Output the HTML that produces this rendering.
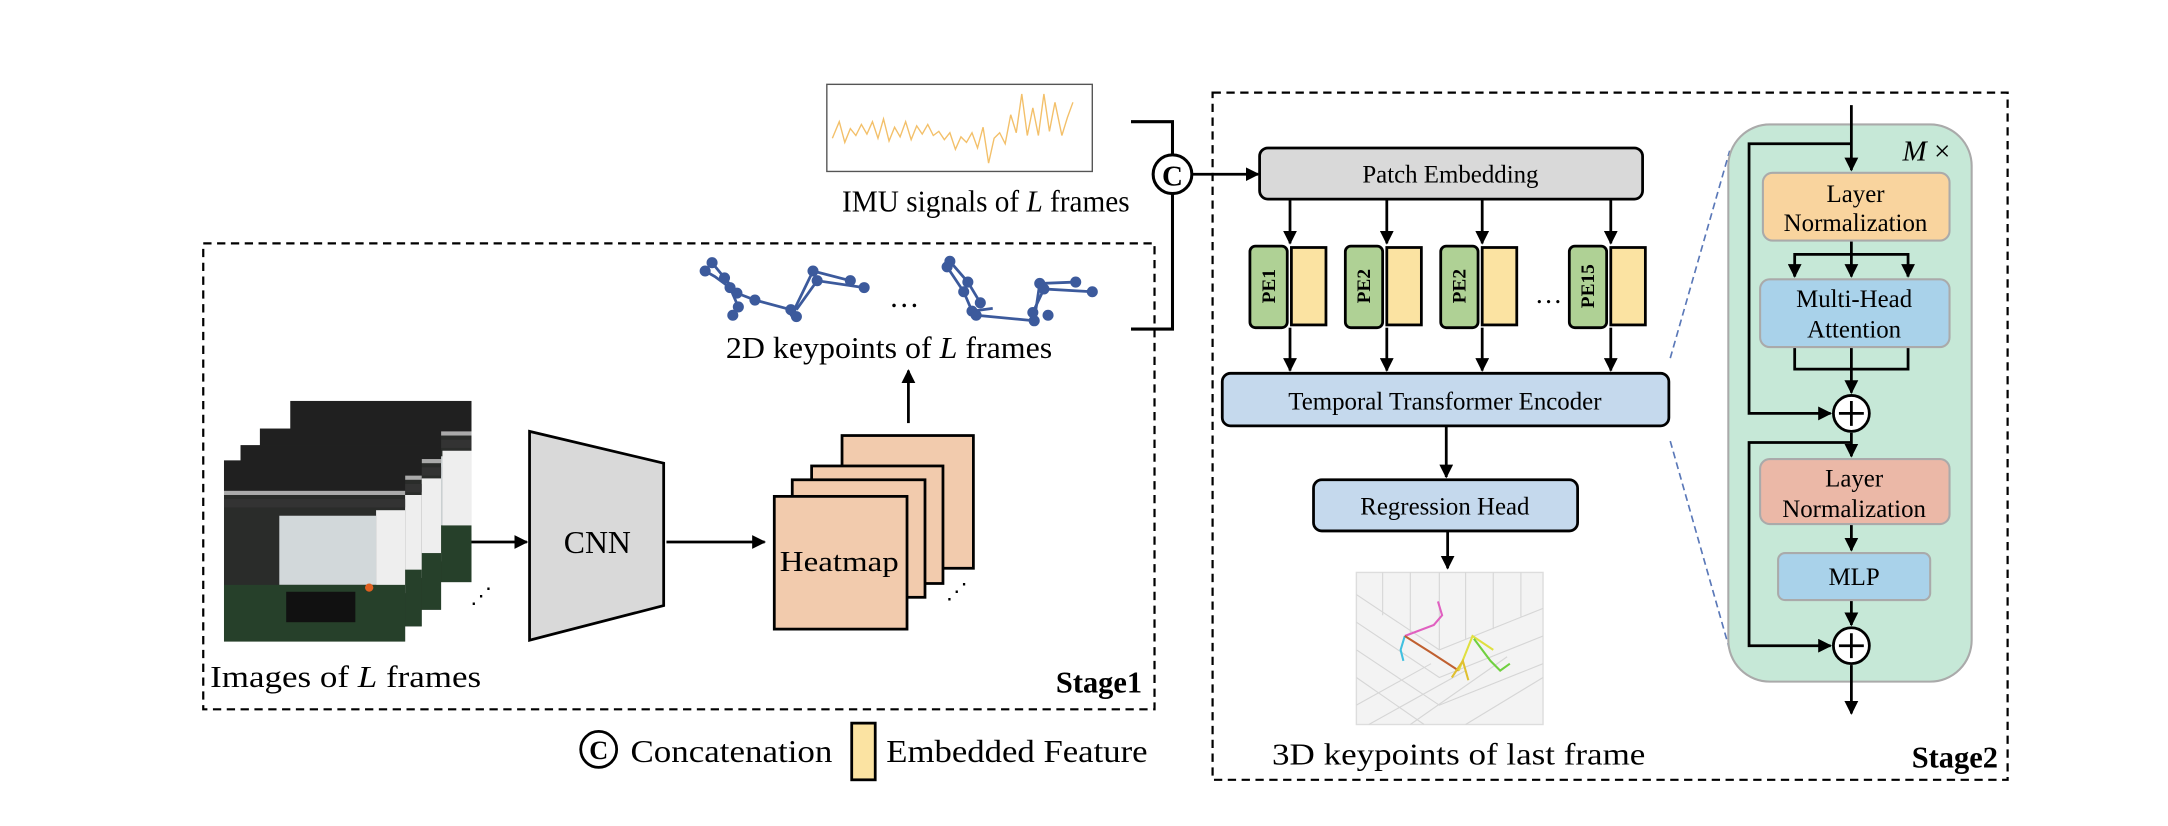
<!DOCTYPE html>
<html><head><meta charset="utf-8"><style>html,body{margin:0;padding:0;background:#fff}svg{display:block}</style></head>
<body>
<svg width="2168" height="826" viewBox="0 0 1568 597.4" xmlns="http://www.w3.org/2000/svg" font-family="Liberation Serif, serif">
<defs>
<marker id="ar" viewBox="0 0 10 10" refX="9" refY="5" markerWidth="5" markerHeight="5" orient="auto"><path d="M0,0 L10,5 L0,10 z" fill="#000"/></marker>
<g id="frame">
<rect x="0" y="0" width="131" height="131" fill="#2a2c2a"/>
<rect x="0" y="0" width="131" height="22" fill="#202020"/>
<rect x="0" y="22" width="131" height="3" fill="#aaa"/>
<rect x="0" y="28" width="131" height="6" fill="#333"/>
<rect x="40" y="40" width="70" height="50" fill="#d2d8da"/>
<rect x="110" y="36" width="21" height="60" fill="#eeeeee"/>
<rect x="0" y="90" width="131" height="41" fill="#26402a"/>
<rect x="45" y="95" width="50" height="22" fill="#111"/>
<circle cx="105" cy="92" r="3" fill="#e06020"/>
</g>
</defs>

<!-- IMU -->
<rect x="598" y="61" width="192" height="63" fill="#fff" stroke="#555" stroke-width="1"/>
<polyline fill="none" stroke="#f3c06a" stroke-width="1" points="602,100 607,88 611,103 615,93 619,98 623,90 627,97 631,88 635,100 639,86 643,102 647,92 651,99 655,88 659,101 663,91 667,97 671,90 675,98 679,95 683,101 687,96 691,108 695,99 699,103 703,96 707,107 711,92 715,118 719,100 723,96 727,104 731,83 735,96 739,68 743,98 747,78 751,98 755,68 759,95 763,74 768,98 772,85 776,74"/>
<text x="713" y="153" font-size="22" text-anchor="middle" textLength="208" lengthAdjust="spacingAndGlyphs">IMU signals of <tspan font-style="italic">L</tspan> frames</text>

<!-- bracket and concat -->
<polyline points="818,88 848,88 848,238 818,238" fill="none" stroke="#000" stroke-width="2.2"/>
<circle cx="848" cy="126" r="14" fill="#fff" stroke="#000" stroke-width="2.2"/>
<text x="848" y="134" font-size="21" font-weight="bold" text-anchor="middle">C</text>
<line x1="862" y1="126" x2="910" y2="126" stroke="#000" stroke-width="2" marker-end="url(#ar)"/>

<!-- Stage1 -->
<rect x="147" y="176" width="688" height="337" fill="none" stroke="#000" stroke-width="1.6" stroke-dasharray="6,4"/>
<text x="826" y="501" font-size="22" font-weight="bold" text-anchor="end">Stage1</text>

<!-- skeletons -->
<g stroke="#3c5a9c" stroke-width="2" fill="#3c5a9c">
<polyline fill="none" points="510,196 517,200 528,208 534,222 530,228"/>
<polyline fill="none" points="515,190 524,201 533,212 546,217 572,224"/>
<polyline fill="none" points="572,229 588,196 615,203"/>
<polyline fill="none" points="576,224 591,203 625,208"/>
<circle cx="510" cy="196" r="3"/><circle cx="515" cy="190" r="3"/><circle cx="524" cy="201" r="3"/><circle cx="528" cy="208" r="3"/><circle cx="533" cy="212" r="3"/><circle cx="546" cy="217" r="3"/><circle cx="530" cy="228" r="3"/><circle cx="534" cy="222" r="3"/><circle cx="572" cy="224" r="3"/><circle cx="576" cy="229" r="3"/><circle cx="588" cy="196" r="3"/><circle cx="591" cy="203" r="3"/><circle cx="615" cy="203" r="3"/><circle cx="625" cy="208" r="3"/>
<polyline fill="none" points="685,193 697,211 703,225 718,223"/>
<polyline fill="none" points="687,189 700,204 709,219"/>
<polyline fill="none" points="706,228 748,232 752,205 778,204"/>
<polyline fill="none" points="747,226 755,209 790,211"/>
<circle cx="685" cy="193" r="3"/><circle cx="687" cy="189" r="3"/><circle cx="697" cy="211" r="3"/><circle cx="700" cy="204" r="3"/><circle cx="709" cy="219" r="3"/><circle cx="703" cy="225" r="3"/><circle cx="706" cy="228" r="3"/><circle cx="748" cy="232" r="3"/><circle cx="752" cy="205" r="3"/><circle cx="778" cy="204" r="3"/><circle cx="747" cy="226" r="3"/><circle cx="755" cy="209" r="3"/><circle cx="790" cy="211" r="3"/><circle cx="758" cy="228" r="3"/>
</g>
<text x="654" y="222" font-size="22" text-anchor="middle">…</text>
<text x="643" y="259" font-size="22" text-anchor="middle" textLength="236" lengthAdjust="spacingAndGlyphs">2D keypoints of <tspan font-style="italic">L</tspan> frames</text>
<line x1="657" y1="306" x2="657" y2="268" stroke="#000" stroke-width="2" marker-end="url(#ar)"/>

<!-- images -->
<use href="#frame" transform="translate(210,290)"/>
<use href="#frame" transform="translate(188,310)"/>
<use href="#frame" transform="translate(174,322)"/>
<use href="#frame" transform="translate(162,333)"/>
<text x="340" y="436" font-size="16">⋰</text>
<text x="152" y="497" font-size="22" textLength="196" lengthAdjust="spacingAndGlyphs">Images of <tspan font-style="italic">L</tspan> frames</text>

<line x1="341" y1="392" x2="381" y2="392" stroke="#000" stroke-width="2" marker-end="url(#ar)"/>
<polygon points="383,312 480,335 480,438 383,463" fill="#d9d9d9" stroke="#000" stroke-width="2"/>
<text x="432" y="400" font-size="23" text-anchor="middle">CNN</text>
<line x1="482" y1="392" x2="553" y2="392" stroke="#000" stroke-width="2" marker-end="url(#ar)"/>

<g fill="#f2cbad" stroke="#000" stroke-width="2">
<rect x="609" y="315" width="95" height="96"/>
<rect x="587" y="337" width="95" height="85"/>
<rect x="573" y="347" width="96" height="85"/>
<rect x="560" y="359" width="96" height="96"/>
</g>
<text x="607" y="413" font-size="21" text-anchor="middle" textLength="86" lengthAdjust="spacingAndGlyphs">Heatmap</text>
<text x="684" y="433" font-size="16">⋰</text>

<!-- legend -->
<circle cx="433" cy="542" r="13" fill="#fff" stroke="#000" stroke-width="2"/>
<text x="433" y="549" font-size="19" font-weight="bold" text-anchor="middle">C</text>
<text x="456" y="551" font-size="23" textLength="146" lengthAdjust="spacingAndGlyphs">Concatenation</text>
<rect x="616" y="523" width="17" height="41" fill="#fbe3a2" stroke="#000" stroke-width="2"/>
<text x="641" y="551" font-size="23" textLength="189" lengthAdjust="spacingAndGlyphs">Embedded Feature</text>

<!-- Stage2 -->
<rect x="877" y="67" width="575" height="497" fill="none" stroke="#000" stroke-width="1.6" stroke-dasharray="6,4"/>
<text x="1445" y="555" font-size="22" font-weight="bold" text-anchor="end">Stage2</text>

<rect x="911" y="107" width="277" height="37" rx="6" fill="#d9d9d9" stroke="#000" stroke-width="2"/>
<text x="1049" y="132" font-size="18" text-anchor="middle">Patch Embedding</text>

<g stroke="#000" stroke-width="2">
<line x1="933" y1="144" x2="933" y2="176" marker-end="url(#ar)"/>
<line x1="1003" y1="144" x2="1003" y2="176" marker-end="url(#ar)"/>
<line x1="1072" y1="144" x2="1072" y2="176" marker-end="url(#ar)"/>
<line x1="1165" y1="144" x2="1165" y2="176" marker-end="url(#ar)"/>
<line x1="933" y1="237" x2="933" y2="268" marker-end="url(#ar)"/>
<line x1="1003" y1="237" x2="1003" y2="268" marker-end="url(#ar)"/>
<line x1="1072" y1="237" x2="1072" y2="268" marker-end="url(#ar)"/>
<line x1="1165" y1="237" x2="1165" y2="268" marker-end="url(#ar)"/>
</g>
<g stroke="#000" stroke-width="2">
<rect x="904" y="178" width="27" height="59" rx="4" fill="#afd195"/>
<rect x="934" y="179" width="25" height="56" fill="#fbe3a2"/>
<rect x="973" y="178" width="27" height="59" rx="4" fill="#afd195"/>
<rect x="1003" y="179" width="25" height="56" fill="#fbe3a2"/>
<rect x="1042" y="178" width="27" height="59" rx="4" fill="#afd195"/>
<rect x="1072" y="179" width="25" height="56" fill="#fbe3a2"/>
<rect x="1135" y="178" width="27" height="59" rx="4" fill="#afd195"/>
<rect x="1165" y="179" width="25" height="56" fill="#fbe3a2"/>
</g>
<g font-size="14" font-weight="bold" text-anchor="middle">
<text transform="translate(922,207) rotate(-90)">PE1</text>
<text transform="translate(991,207) rotate(-90)">PE2</text>
<text transform="translate(1060,207) rotate(-90)">PE2</text>
<text transform="translate(1153,207) rotate(-90)">PE15</text>
</g>
<text x="1120" y="219" font-size="20" text-anchor="middle">…</text>

<rect x="884" y="270" width="323" height="38" rx="6" fill="#c5d9ed" stroke="#000" stroke-width="2"/>
<text x="1045" y="296" font-size="18" text-anchor="middle">Temporal Transformer Encoder</text>
<line x1="1046" y1="308" x2="1046" y2="345" stroke="#000" stroke-width="2" marker-end="url(#ar)"/>
<rect x="950" y="347" width="191" height="37" rx="6" fill="#c5d9ed" stroke="#000" stroke-width="2"/>
<text x="1045" y="372" font-size="18" text-anchor="middle">Regression Head</text>
<line x1="1047" y1="384" x2="1047" y2="411" stroke="#000" stroke-width="2" marker-end="url(#ar)"/>

<!-- 3D plot -->
<rect x="981" y="414" width="135" height="110" fill="#f3f3f3" stroke="#ddd"/>
<g stroke="#d6d6d6" stroke-width="0.8" fill="none">
<path d="M981,430 L1041,470 L1116,440 M981,450 L1041,490 L1116,460 M981,470 L1041,510 L1116,480 M981,490 L1030,524 M1041,414 L1041,470 M1000,414 L1000,445 M1020,414 L1020,458 M1060,414 L1060,462 M1080,414 L1080,455 M1100,414 L1100,446 M990,524 L1060,485 M1020,524 L1090,475 M1060,524 L1116,490 M981,510 L1035,480"/>
</g>
<g stroke-width="1.5" fill="none">
<polyline stroke="#e060c0" points="1040,435 1043,445 1037,452 1016,460"/>
<polyline stroke="#40c0e0" points="1016,460 1013,470 1015,478"/>
<polyline stroke="#c06030" points="1016,460 1035,472 1055,485"/>
<polyline stroke="#e0e040" points="1055,485 1065,460 1080,470"/>
<polyline stroke="#70d040" points="1066,462 1078,478 1085,485 1092,480"/>
<polyline stroke="#e0c030" points="1050,490 1058,478 1062,492"/>
</g>
<text x="1055" y="553" font-size="22" text-anchor="middle" textLength="270" lengthAdjust="spacingAndGlyphs">3D keypoints of last frame</text>

<!-- dashed zoom lines -->
<line x1="1208" y1="259" x2="1251" y2="109" stroke="#5a78b8" stroke-width="1.2" stroke-dasharray="5,3"/>
<line x1="1208" y1="319" x2="1251" y2="470" stroke="#5a78b8" stroke-width="1.2" stroke-dasharray="5,3"/>

<!-- panel -->
<rect x="1250" y="90" width="176" height="403" rx="30" fill="#c6e8d7" stroke="#aaa" stroke-width="1.5"/>
<text x="1376" y="116" font-size="21"><tspan font-style="italic">M</tspan> ×</text>
<g stroke="#000" stroke-width="2" fill="none">
<line x1="1339" y1="76" x2="1339" y2="123" marker-end="url(#ar)"/>
<polyline points="1339,104 1265,104 1265,299 1324,299" marker-end="url(#ar)"/>
<line x1="1339" y1="174" x2="1339" y2="200" marker-end="url(#ar)"/>
<polyline points="1298,200 1298,184 1380,184 1380,200"/>
<line x1="1298" y1="192" x2="1298" y2="200" marker-end="url(#ar)"/>
<line x1="1380" y1="192" x2="1380" y2="200" marker-end="url(#ar)"/>
<polyline points="1298,251 1298,267 1380,267 1380,251"/>
<line x1="1339" y1="251" x2="1339" y2="284" marker-end="url(#ar)"/>
<line x1="1339" y1="313" x2="1339" y2="330" marker-end="url(#ar)"/>
<polyline points="1339,320 1265,320 1265,467 1324,467" marker-end="url(#ar)"/>
<line x1="1339" y1="379" x2="1339" y2="398" marker-end="url(#ar)"/>
<line x1="1339" y1="434" x2="1339" y2="452" marker-end="url(#ar)"/>
<line x1="1339" y1="481" x2="1339" y2="516" marker-end="url(#ar)"/>
</g>
<rect x="1275" y="125" width="135" height="49" rx="7" fill="#f9d49e" stroke="#aaa" stroke-width="1.5"/>
<text x="1342" y="146" font-size="18" text-anchor="middle">Layer</text>
<text x="1342" y="167" font-size="18" text-anchor="middle">Normalization</text>
<rect x="1273" y="202" width="137" height="49" rx="7" fill="#a9d2ea" stroke="#aaa" stroke-width="1.5"/>
<text x="1341" y="222" font-size="18" text-anchor="middle">Multi-Head</text>
<text x="1341" y="244" font-size="18" text-anchor="middle">Attention</text>
<rect x="1273" y="332" width="137" height="47" rx="7" fill="#ebb8a7" stroke="#aaa" stroke-width="1.5"/>
<text x="1341" y="352" font-size="18" text-anchor="middle">Layer</text>
<text x="1341" y="374" font-size="18" text-anchor="middle">Normalization</text>
<rect x="1286" y="400" width="110" height="34" rx="5" fill="#a9d2ea" stroke="#aaa" stroke-width="1.5"/>
<text x="1341" y="423" font-size="18" text-anchor="middle">MLP</text>
<g stroke="#000" stroke-width="2" fill="#fff">
<circle cx="1339" cy="299" r="13"/>
<path d="M1330,299 H1348 M1339,290 V308"/>
<circle cx="1339" cy="467" r="13"/>
<path d="M1330,467 H1348 M1339,458 V476"/>
</g>
</svg>
</body></html>
